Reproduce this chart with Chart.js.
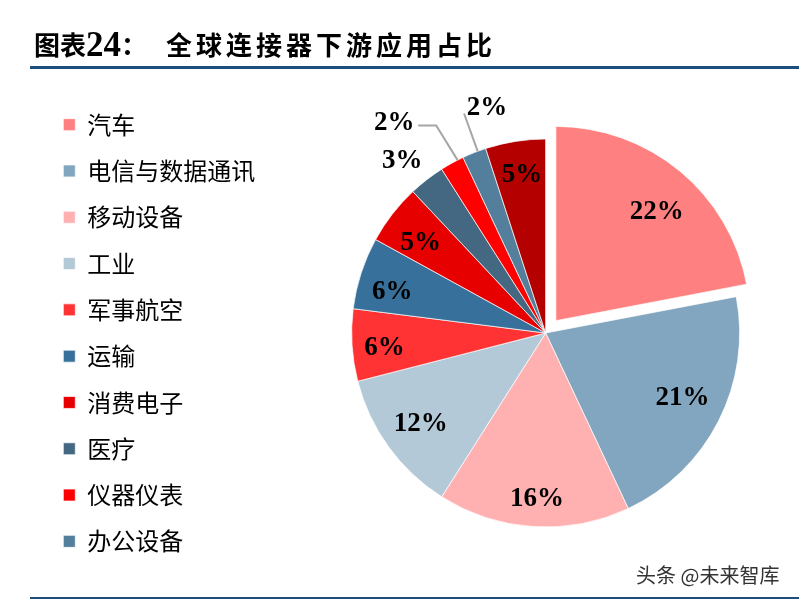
<!DOCTYPE html>
<html>
<head>
<meta charset="utf-8">
<script src="https://cdn.jsdelivr.net/npm/chart.js@4.4.1/dist/chart.umd.min.js"></script>
<style>
html, body { margin: 0; padding: 0; background: #fff; }
body { width: 799px; height: 600px; position: relative; overflow: hidden; font-family: "Noto Sans CJK SC", sans-serif; }
#box { position: absolute; left: 0; top: 0; width: 900px; height: 600px; }
.t { position: absolute; top: 25px; font-size: 26px; font-weight: 700; color: #000; white-space: nowrap; line-height: 38px; }
.num { font-family: "Liberation Serif", serif; font-size: 35px; font-weight: 700; vertical-align: -1px; }
#t2 { left: 166px; letter-spacing: 4px; }
.rule { position: absolute; left: 30px; right: 0; background: #1d4f7e; }
#mark { position: absolute; left: 636px; top: 560px; font-size: 20px; color: #333; text-shadow: 0 0 2px #fff, 0 0 2px #fff; white-space: nowrap; }
</style>
</head>
<body>
<div id="box"><canvas id="pie"></canvas></div>
<div class="t" id="t1" style="left:34px">图表<span class="num">24</span>：</div>
<div class="t" id="t2">全球连接器下游应用占比</div>
<div class="rule" style="top:66px;height:3px"></div>
<div id="mark">头条 @未来智库</div>
<div class="rule" style="top:597px;height:2px"></div>
<script>
var categories = ["汽车","电信与数据通讯","移动设备","工业","军事航空","运输","消费电子","医疗","仪器仪表","办公设备","其他"];
var shares = [22,21,16,12,6,6,5,3,2,2,5];
var sliceColors = ["#FF8080","#82A6BF","#FFB1B1","#B4C9D8","#FF3333","#37709A","#E60000","#456882","#FF0000","#547F9C","#B50000"];
var legendCount = 10;
var explode = 16; // px the first slice is pulled out

// where each % label sits: k = fraction of radius, da = degrees off the slice middle
var labelPlace = [
    {k: 0.772, da: 2.7}, {k: 0.777, da: -2.3}, {k: 0.846, da: -0.6}, {k: 0.792, da: 0.4},
    {k: 0.833, da: -1}, {k: 0.822, da: -2.3}, {k: 0.80, da: -1.4}, {k: 1.162, da: -1.7},
    {k: 1.341, da: -6.8}, {k: 1.206, da: 7.1}, {k: 0.831, da: 0.6}
];

var pieLabels = {
    id: "pieLabels",
    afterDatasetsDraw: function(chart){
        var ctx = chart.ctx;
        var meta = chart.getDatasetMeta(0);
        ctx.save();
        ctx.font = "bold 27px 'Liberation Serif'";
        ctx.fillStyle = "#000";
        ctx.textAlign = "center";
        ctx.textBaseline = "middle";
        meta.data.forEach(function(arc, i){
            var p = arc.getProps(["x","y","startAngle","endAngle","outerRadius"]);
            var mid = (p.startAngle + p.endAngle) / 2;
            var off = i === 0 ? explode : 0;
            var cx = p.x + Math.cos(mid) * off;
            var cy = p.y + Math.sin(mid) * off;
            var r = p.outerRadius;
            var pl = labelPlace[i];
            var a = mid + pl.da * Math.PI / 180;
            var lx = cx + Math.cos(a) * r * pl.k;
            var ly = cy + Math.sin(a) * r * pl.k;
            if (i === 8 || i === 9) {
                // leader lines for the two thin slices
                var ea = mid + (i === 8 ? 1.8 : 1.1) * Math.PI / 180;
                var ex = cx + Math.cos(ea) * r;
                var ey = cy + Math.sin(ea) * r;
                ctx.strokeStyle = "#A6A6A6";
                ctx.lineWidth = 2;
                ctx.beginPath();
                if (i === 8) {
                    ctx.moveTo(lx + 24, ly + 4);
                    ctx.lineTo(lx + 42, ly + 4);
                } else {
                    ctx.moveTo(lx - 23, ly + 7);
                }
                ctx.lineTo(ex, ey);
                ctx.stroke();
            }
            ctx.fillText(shares[i] + "%", lx, ly + 2);
        });
        ctx.restore();
    }
};

var ctx = document.getElementById("pie");
var options = {};
var data = {};
options.type = "pie";
data.labels = categories;
data.datasets = [{
    data: shares,
    backgroundColor: sliceColors,
    borderColor: "rgba(255,255,255,0.7)",
    borderWidth: 1,
    // chart.js draws offset / 4
    offset: shares.map(function(v, i){ return i === 0 ? explode * 4 : 0; })
}];
options.data = data;
options.options = {
    responsive: true,
    maintainAspectRatio: false,
    animation: false,
    radius: 194,
    layout: { padding: { left: 41, right: 74, top: 80, bottom: 14 } },
    plugins: {
        tooltip: { enabled: false },
        legend: {
            position: "left",
            maxWidth: 225,
            labels: {
                boxWidth: 12,
                boxHeight: 12,
                padding: 22.3,
                color: "#000",
                font: { family: "'Noto Sans CJK SC'", size: 24 },
                filter: function(item){ return item.index < legendCount; }
            }
        }
    }
};
options.plugins = [pieLabels];
new Chart(ctx, options);
</script>
</body>
</html>
